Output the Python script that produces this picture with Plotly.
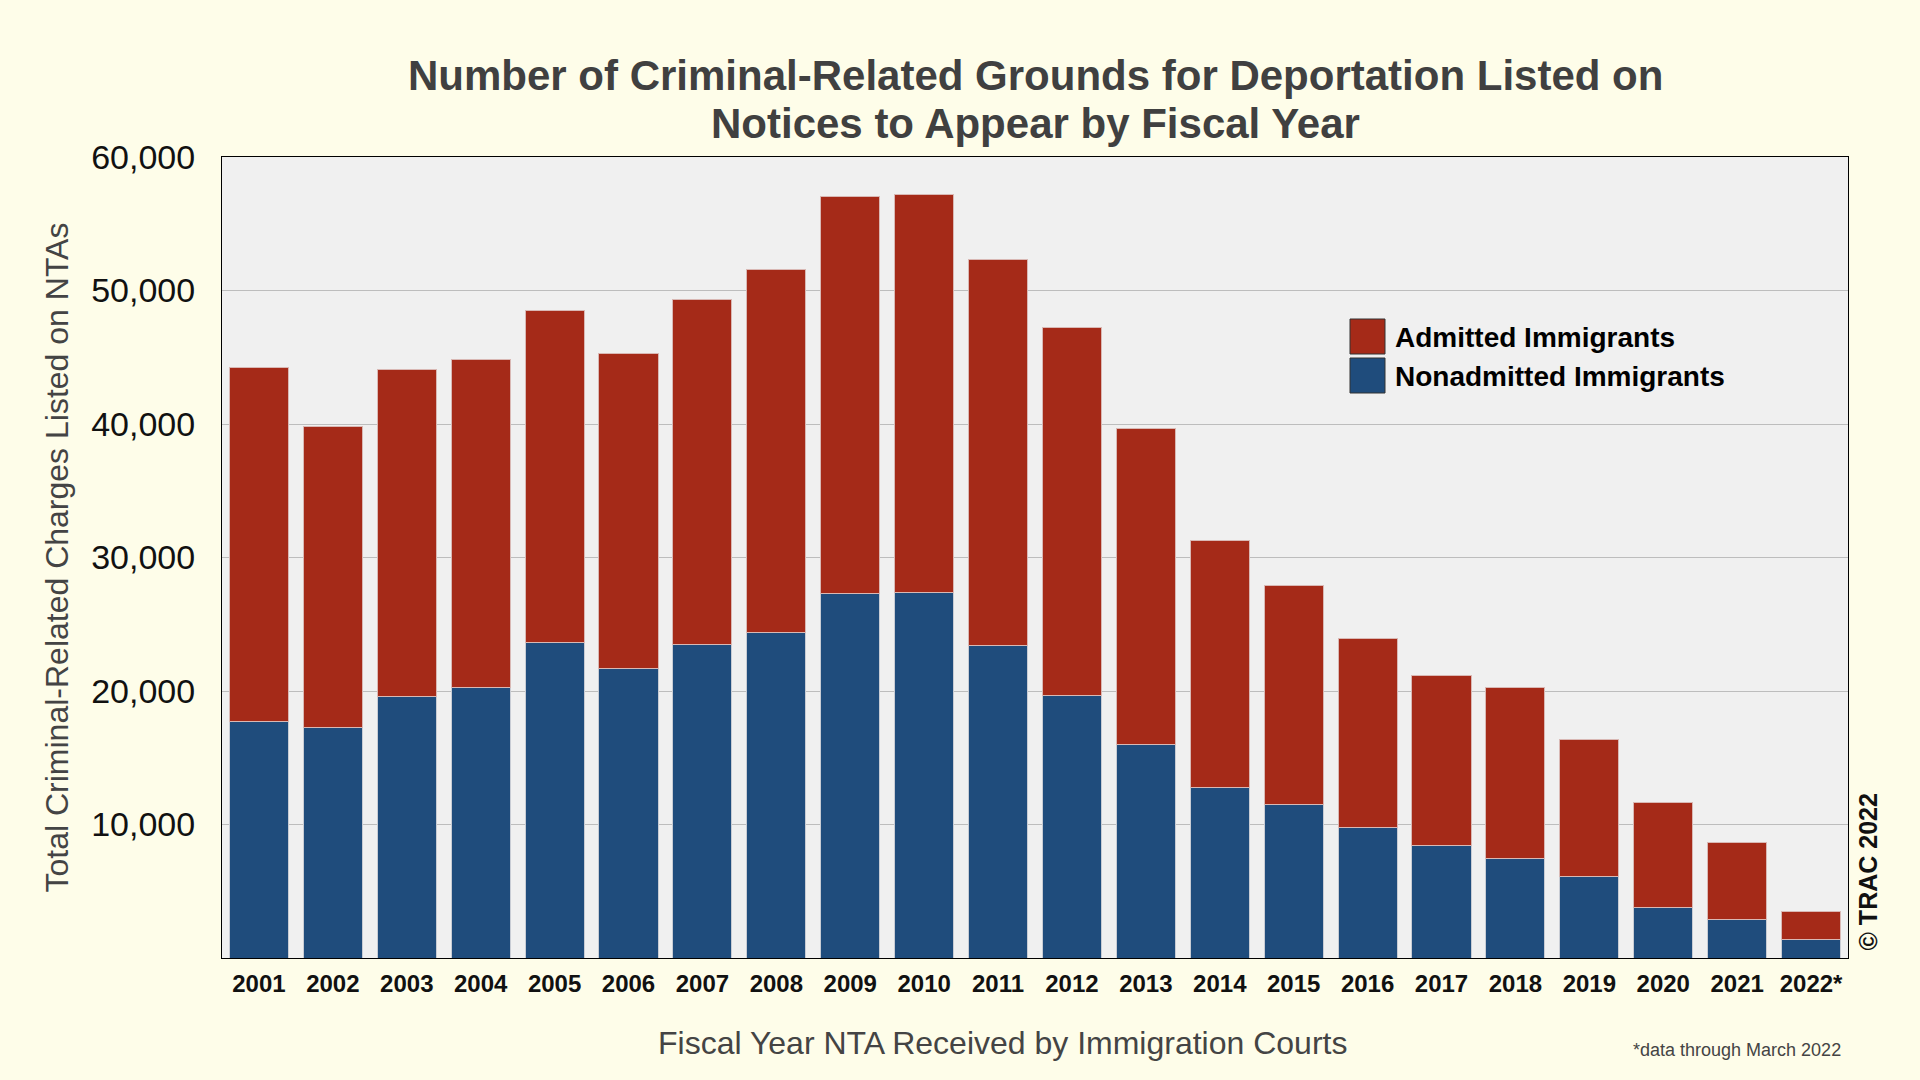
import plotly.graph_objects as go

years = ["2001", "2002", "2003", "2004", "2005", "2006", "2007", "2008", "2009", "2010", "2011",
         "2012", "2013", "2014", "2015", "2016", "2017", "2018", "2019", "2020", "2021", "2022*"]
nonadmitted = [17700, 17300, 19600, 20250, 23600, 21700, 23450, 24350, 27300, 27350, 23400,
               19700, 16000, 12750, 11500, 9750, 8400, 7450, 6100, 3800, 2850, 1350]
admitted = [26500, 22500, 24500, 24550, 24900, 23600, 25850, 27250, 29750, 29850, 28900,
            27500, 23700, 18550, 16400, 14150, 12750, 12850, 10300, 7850, 5800, 2150]
y_tick_vals = [10000, 20000, 30000, 40000, 50000, 60000]
y_tick_text = ["10,000", "20,000", "30,000", "40,000", "50,000", "60,000"]
title_lines = ["Number of Criminal-Related Grounds for Deportation Listed on",
               "Notices to Appear by Fiscal Year"]

RED = "#A52A18"
BLUE = "#1F4C7C"
FONT = "Liberation Sans, Arial, Helvetica, sans-serif"

fig = go.Figure()
fig.add_trace(go.Bar(x=years, y=nonadmitted, name="Nonadmitted Immigrants",
                     marker=dict(color=BLUE, line=dict(color="#c8ccd4", width=1))))
fig.add_trace(go.Bar(x=years, y=admitted, name="Admitted Immigrants",
                     marker=dict(color=RED, line=dict(color="#d9b8b4", width=1))))

L, R, T, B = 222, 72, 157, 122
W, H = 1920, 1080
pw, ph = W - L - R, H - T - B

def px_x(x):
    return (x - L) / pw

def px_y(y):
    return (H - B - y) / ph

fig.update_layout(
    width=W, height=H,
    margin=dict(l=L, r=R, t=T, b=B),
    paper_bgcolor="#FEFDE9",
    plot_bgcolor="#F0F0F0",
    barmode="stack",
    bargap=0.2,
    showlegend=False,
    font=dict(family=FONT),
    xaxis=dict(
        showline=True, linecolor="black", linewidth=1, mirror=True,
        tickfont=dict(family=FONT, size=24, color="#111111", weight=700),
        ticks="", ticklabelstandoff=4,
        showgrid=False,
    ),
    yaxis=dict(
        range=[0, 60000],
        tickvals=y_tick_vals, ticktext=y_tick_text,
        showline=True, linecolor="black", linewidth=1, mirror=True,
        showgrid=True, gridcolor="#BDBDBD", gridwidth=1,
        tickfont=dict(family=FONT, size=34, color="#111111"),
        ticks="", ticklabelstandoff=19,
        zeroline=False,
    ),
)

annotations = []
for line, yc in zip(title_lines, [76, 124]):
    annotations.append(dict(text=line, x=0.5, y=px_y(yc), xref="paper", yref="paper",
                            xanchor="center", yanchor="middle", showarrow=False,
                            font=dict(family=FONT, size=42, color="#404040", weight=700)))

annotations += [
    dict(text="Fiscal Year NTA Received by Immigration Courts", x=px_x(1002), y=px_y(1043),
         xref="paper", yref="paper", xanchor="center", yanchor="middle", showarrow=False,
         font=dict(family=FONT, size=32, color="#444444")),
    dict(text="Total Criminal-Related Charges Listed on NTAs", x=px_x(56), y=0.5,
         xref="paper", yref="paper", xanchor="center", yanchor="middle", showarrow=False,
         textangle=-90, font=dict(family=FONT, size=32, color="#444444")),
    dict(text="*data through March 2022", x=px_x(1843), y=px_y(1050),
         xref="paper", yref="paper", xanchor="right", yanchor="middle", showarrow=False,
         font=dict(family=FONT, size=18, color="#444444")),
    dict(text="© TRAC 2022", x=px_x(1867), y=px_y(953),
         xref="paper", yref="paper", xanchor="center", yanchor="bottom", showarrow=False,
         textangle=-90, font=dict(family=FONT, size=25, color="#111111", weight=700)),
]

# custom legend
legend_items = [("Admitted Immigrants", RED, 319), ("Nonadmitted Immigrants", BLUE, 358)]
shapes = []
for label, color, top in legend_items:
    shapes.append(dict(type="rect", xref="paper", yref="paper",
                       x0=px_x(1350), x1=px_x(1385), y0=px_y(top + 35), y1=px_y(top),
                       fillcolor=color, line=dict(color="#333333", width=1)))
    annotations.append(dict(text=label, x=px_x(1393), y=px_y(top + 18),
                            xref="paper", yref="paper", xanchor="left", yanchor="middle",
                            showarrow=False,
                            font=dict(family=FONT, size=28, color="#000000", weight=700)))

fig.update_layout(annotations=annotations, shapes=shapes)

fig.write_html("out.html")
